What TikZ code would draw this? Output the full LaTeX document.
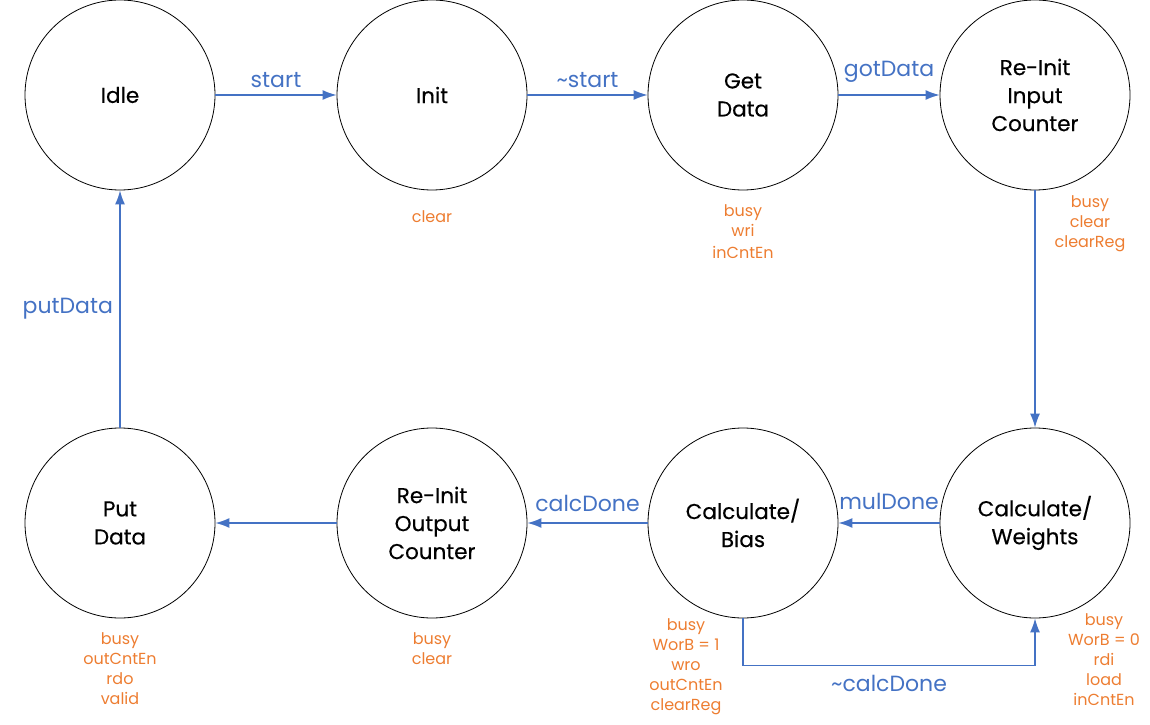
\documentclass[tikz,border=0pt]{standalone}
\usepackage{fontspec}
\setmainfont{Poppins}
\newfontfamily\statefont[FakeBold=0.4]{Poppins}
\usepackage{tikz}
\usetikzlibrary{arrows.meta, positioning}
\definecolor{flowblue}{HTML}{4472C4}
\definecolor{sigorange}{HTML}{ED7D31}
\tikzstyle{arrow} = [line width=1.4pt, draw=flowblue, -{Latex[length=14pt,width=10pt]}]
\tikzstyle{state} = [draw=black, line width=0.8pt, circle, minimum size=190pt, inner sep=0pt, align=center, font=\statefont\fontsize{21.5}{28}\selectfont]
\tikzstyle{cond} = [text=flowblue, font=\fontsize{22}{26}\selectfont]
\tikzstyle{outputs} = [text=sigorange, align=center, inner sep=0pt, font=\fontsize{16}{20}\selectfont]

\begin{document}
\begin{tikzpicture}[x=1pt, y=1pt, node distance=312pt]
    \useasboundingbox (0,0) rectangle (1150,724);
    % states, top row
    \node[state] (idle) at (120,629) {Idle};
    \node[state, right of=idle] (init) {Init};
    \node[state, node distance=311pt, right of=init] (getdata) {Get\\Data};
    \node[state, node distance=292pt, right of=getdata] (reinitin) {Re-Init\\Input\\Counter};
    % states, bottom row
    \node[state, node distance=428pt, below of=reinitin] (weights) {Calculate/\\Weights};
    \node[state, node distance=292pt, left of=weights] (bias) {Calculate/\\Bias};
    \node[state, node distance=311pt, left of=bias] (reinitout) {Re-Init\\Output\\Counter};
    \node[state, left of=reinitout] (putdata) {Put\\Data};

    % outputs of each state
    \node[outputs, below=20pt of init] (initout) {clear};
    \node[outputs, below=14pt of getdata] (getdataout) {busy\\wri\\[2pt]inCntEn};
    \node[outputs, anchor=north] (reinitinout) at ([xshift=55pt, yshift=-5pt]reinitin.south) {busy\\clear\\clearReg};
    \node[outputs, anchor=north] (weightsout) at ([xshift=69pt, yshift=5pt]weights.south) {busy\\WorB = 0\\rdi\\load\\inCntEn};
    \node[outputs, anchor=north] (biasout) at ([xshift=-57pt, yshift=0pt]bias.south) {busy\\WorB = 1\\wro\\outCntEn\\clearReg};
    \node[outputs, below=14pt of reinitout] (reinitoutout) {busy\\clear};
    \node[outputs, below=14pt of putdata] (putdataout) {busy\\outCntEn\\rdo\\valid};

    % transitions
    \draw[arrow] (idle) -- node[cond, above=3pt] {start} (init);
    \draw[arrow] (init) -- node[cond, above=3pt] {\textasciitilde start} (getdata);
    \draw[arrow] (getdata) -- node[cond, above=9pt] {gotData} (reinitin);
    \draw[arrow] (reinitin) -- (weights);
    \draw[arrow] (weights) -- node[cond, above=9pt] {mulDone} (bias);
    \draw[arrow] (bias) -- node[cond, above=7pt] {calcDone} (reinitout);
    \draw[arrow] (reinitout) -- (putdata);
    \draw[arrow] (putdata) -- node[cond, left=3pt] {putData} (idle);
    \draw[arrow] (bias.south) -- ++(0,-47) -| node[cond, pos=0.25, below=6pt] {\textasciitilde calcDone} (weights.south);
\end{tikzpicture}
\end{document}
